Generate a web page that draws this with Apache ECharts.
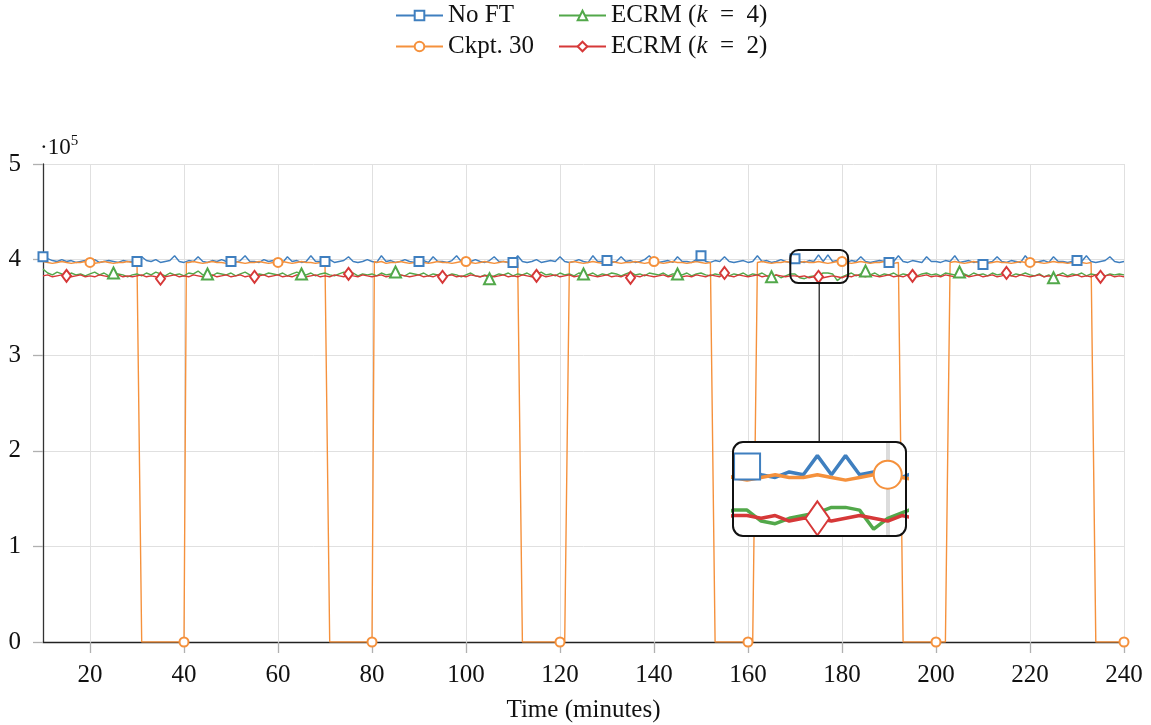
<!DOCTYPE html>
<html>
<head>
<meta charset="utf-8">
<script src="https://cdn.jsdelivr.net/npm/echarts/dist/echarts.min.js"></script>
<style>
  html, body { margin: 0; padding: 0; background: #fff; }
  #chart { width: 1151px; height: 725px; }
</style>
</head>
<body>
<div id="chart"></div>
<script>
// one sample per minute, minute 10 .. 240, values in thousands
var firstMinute = 10
var xTicks = [20, 40, 60, 80, 100, 120, 140, 160, 180, 200, 220, 240]

var noFT = [
  403, 401, 399, 398, 400, 398, 399, 397, 398, 399,
  398, 400, 397, 398, 399, 398, 397, 399, 398, 398,
  398, 403, 399, 398, 400, 397, 398, 399, 404, 398,
  397, 399, 398, 403, 398, 397, 399, 398, 400, 398,
  398, 397, 399, 404, 398, 398, 397, 400, 398, 399,
  398, 397, 403, 398, 399, 397, 398, 404, 398, 398,
  398, 400, 397, 398, 399, 403, 398, 397, 398, 400,
  398, 397, 404, 398, 399, 397, 398, 400, 398, 397,
  398, 399, 397, 403, 398, 398, 397, 399, 404, 398,
  397, 398, 400, 398, 397, 399, 403, 398, 398, 397,
  397, 404, 398, 397, 398, 400, 397, 398, 399, 398,
  403, 398, 397, 398, 400, 398, 397, 404, 398, 398,
  399, 397, 398, 403, 398, 399, 397, 398, 400, 404,
  398, 397, 398, 399, 397, 403, 398, 398, 397, 400,
  404, 398, 397, 399, 398, 403, 398, 397, 398, 399,
  397, 398, 404, 398, 399, 397, 398, 400, 398, 397,
  401, 398, 397, 399, 398, 405, 398, 405, 398, 399,
  398, 397, 399, 398, 403, 398, 397, 398, 399, 398,
  397, 398, 404, 398, 397, 399, 398, 397, 403, 398,
  398, 397, 399, 398, 404, 397, 398, 399, 397, 398,
  395, 397, 398, 403, 398, 397, 399, 398, 397, 404,
  398, 397, 398, 399, 397, 403, 398, 398, 397, 398,
  399, 398, 404, 398, 397, 398, 399, 403, 398, 397,
  398
]

var ckpt30 = [
  398, 397, 396, 397, 398, 397, 396, 397, 397, 398,
  397, 396, 397, 398, 397, 396, 397, 397, 398, 397,
  397, 0, 0, 0, 0, 0, 0, 0, 0, 0,
  0, 397, 398, 397, 396, 397, 398, 397, 397, 396,
  397, 398, 397, 396, 397, 397, 398, 397, 396, 397,
  397, 398, 397, 396, 397, 398, 397, 397, 396, 397,
  397, 0, 0, 0, 0, 0, 0, 0, 0, 0,
  0, 397, 398, 396, 397, 397, 398, 397, 396, 397,
  398, 397, 396, 397, 398, 397, 397, 396, 397, 398,
  398, 397, 396, 397, 398, 397, 396, 397, 398, 397,
  396, 397, 0, 0, 0, 0, 0, 0, 0, 0,
  0, 0, 397, 398, 397, 396, 397, 398, 397, 396,
  397, 398, 397, 396, 397, 397, 398, 397, 396, 397,
  398, 397, 396, 397, 398, 397, 397, 396, 397, 398,
  397, 396, 397, 0, 0, 0, 0, 0, 0, 0,
  0, 0, 397, 398, 397, 396, 397, 397, 398, 397,
  396, 397, 398, 397, 397, 398, 397, 396, 397, 398,
  398, 397, 396, 397, 398, 397, 396, 397, 397, 398,
  397, 396, 397, 0, 0, 0, 0, 0, 0, 0,
  0, 0, 0, 397, 398, 397, 396, 397, 398, 397,
  397, 396, 397, 398, 397, 397, 396, 397, 398, 397,
  397, 398, 397, 396, 397, 398, 397, 397, 396, 397,
  398, 397, 396, 397, 0, 0, 0, 0, 0, 0,
  0
]
// recovery points of Ckpt. 30 that fall between whole minutes [minute, value]
var ckpt30Recovery = [[40.5, 397], [80.5, 398]]

var ecrm4 = [
  390, 386, 384, 387, 385, 383, 386, 384, 385, 383,
  385, 387, 384, 386, 383, 386, 385, 384, 382, 384,
  385, 383, 386, 384, 387, 385, 383, 386, 384, 385,
  383, 386, 385, 388, 384, 385, 383, 386, 385, 384,
  386, 383, 385, 387, 384, 382, 385, 384, 386, 385,
  384, 386, 383, 385, 387, 385, 384, 386, 383, 385,
  386, 384, 383, 385, 387, 384, 386, 383, 385, 384,
  385, 383, 386, 384, 385, 387, 384, 383, 386, 385,
  384, 386, 383, 385, 384, 386, 383, 385, 384, 382,
  384, 386, 383, 382, 384, 380, 383, 385, 384, 386,
  383, 385, 384, 386, 383, 385, 387, 384, 385, 383,
  386, 384, 385, 383, 386, 385, 384, 386, 383, 385,
  384, 386, 385, 383, 385, 387, 384, 385, 383, 386,
  385, 384, 386, 383, 385, 385, 384, 386, 383, 385,
  386, 384, 383, 385, 384, 386, 383, 385, 384, 386,
  383, 385, 384, 386, 383, 382, 384, 381, 383, 385,
  385, 381, 380, 382, 383, 384, 386, 386, 385, 378,
  382, 384, 386, 383, 385, 388, 384, 386, 383, 385,
  384, 386, 383, 385, 384, 386, 383, 385, 386, 384,
  385, 383, 386, 385, 384, 387, 385, 383, 386, 384,
  385, 383, 386, 384, 385, 386, 383, 385, 384, 386,
  384, 383, 385, 382, 384, 381, 384, 386, 383, 385,
  384, 386, 383, 385, 384, 386, 383, 385, 384, 385,
  384
]

var ecrm2 = [
  383, 384, 382, 383, 384, 383, 382, 383, 384, 382,
  383, 382, 384, 383, 382, 383, 384, 382, 383, 382,
  383, 384, 382, 383, 382, 380, 382, 383, 384, 382,
  383, 382, 384, 383, 382, 383, 384, 382, 383, 384,
  382, 383, 384, 382, 383, 382, 383, 384, 382, 383,
  384, 382, 383, 382, 384, 383, 382, 383, 384, 382,
  383, 382, 384, 383, 382, 385, 383, 382, 384, 383,
  382, 383, 384, 382, 383, 382, 384, 383, 382, 383,
  384, 382, 383, 382, 384, 382, 383, 384, 382, 383,
  382, 384, 383, 382, 383, 384, 382, 383, 384, 382,
  383, 382, 384, 383, 382, 383, 384, 382, 383, 384,
  382, 383, 384, 382, 383, 382, 384, 383, 382, 383,
  384, 382, 383, 382, 384, 381, 383, 382, 384, 383,
  382, 383, 384, 382, 383, 384, 382, 383, 382, 384,
  383, 382, 384, 383, 382, 386, 383, 382, 384, 383,
  382, 383, 384, 382, 383, 382, 384, 383, 382, 383,
  383, 382, 383, 381, 382, 382, 381, 382, 383, 382,
  381, 383, 382, 384, 383, 382, 384, 383, 382, 383,
  384, 382, 383, 382, 384, 383, 382, 383, 384, 382,
  383, 382, 384, 383, 382, 383, 384, 382, 383, 384,
  382, 383, 384, 382, 383, 386, 383, 382, 384, 383,
  382, 383, 384, 382, 383, 382, 384, 383, 382, 383,
  384, 382, 383, 382, 384, 382, 383, 384, 382, 383,
  382
]

// region magnified in the inset (minutes, thousands)
var zoomX = [169, 181.3]
var zoomY = [375.5, 410]

var serif = 'Liberation Serif'
var fs = 25

// name, values, extra points, colour, symbol, first marked minute, size, inset size
var lines = [
  ['No FT', noFT, [], '#3f7fbf', 'emptyRect', 10, 9, 26],
  ['Ckpt. 30', ckpt30, ckpt30Recovery, '#f5913c', 'emptyCircle', 20, 9, 28],
  ['ECRM (k = 4)', ecrm4, [], '#52a84a', 'emptyTriangle', 25, 11, 30],
  ['ECRM (k = 2)', ecrm2, [], '#d63838', 'emptyDiamond', 15, [9, 12], [24, 34]]
]

function buildData (values, extra, markFrom) {
  var pts = values.map(function (v, i) { return [firstMinute + i, v] })
  pts = pts.concat(extra).sort(function (a, b) { return a[0] - b[0] })
  return pts.map(function (p) {
    var item = { value: p }
    var marked = Number.isInteger(p[0]) && (p[0] - markFrom) % 20 === 0
    if (!marked) item.symbol = 'none'
    return item
  })
}

var chart = echarts.init(document.getElementById('chart'))

var series = []
// vertical grid lines
series.push({
  type: 'line',
  name: 'grid',
  data: [],
  z: 1,
  silent: true,
  markLine: {
    z: 1,
    silent: true,
    symbol: 'none',
    animation: false,
    label: { show: false },
    lineStyle: { color: '#e0e0e0', width: 1, type: 'solid' },
    data: xTicks.map(function (v) { return { xAxis: v } })
  }
})
lines.forEach(function (l) {
  series.push({
    type: 'line',
    name: l[0],
    data: buildData(l[1], l[2], l[5]),
    symbol: l[4],
    symbolSize: l[6],
    showAllSymbol: true,
    color: l[3],
    lineStyle: { width: 1.4 },
    itemStyle: { borderWidth: 1.3 },
    emphasis: { disabled: true },
    z: 2
  })
})
// inset grid line at 180
series.push({
  type: 'line',
  name: 'insetgrid',
  xAxisIndex: 1,
  yAxisIndex: 1,
  data: [],
  z: 11,
  silent: true,
  markLine: {
    z: 11,
    silent: true,
    symbol: 'none',
    animation: false,
    label: { show: false },
    lineStyle: { color: '#dcdcdc', width: 4, type: 'solid' },
    data: [{ xAxis: 180 }]
  }
})
lines.forEach(function (l) {
  series.push({
    type: 'line',
    name: l[0],
    xAxisIndex: 1,
    yAxisIndex: 1,
    data: buildData(l[1], l[2], l[5]),
    symbol: l[4],
    symbolSize: l[7],
    showAllSymbol: true,
    color: l[3],
    lineStyle: { width: 3.5 },
    itemStyle: { borderWidth: 3.5 },
    emphasis: { disabled: true },
    clip: true,
    z: 12
  })
})

var legendText = {
  fontFamily: serif,
  fontSize: fs,
  color: '#111',
  lineHeight: 25,
  rich: { i: { fontFamily: serif, fontSize: fs, fontStyle: 'italic', color: '#111' } }
}

var option = {
  animation: false,
  backgroundColor: '#fff',
  legend: [{
    left: 395,
    top: 3,
    padding: 0,
    orient: 'vertical',
    itemGap: 6,
    itemWidth: 47,
    itemHeight: 12,
    selectedMode: false,
    data: ['No FT', 'Ckpt. 30'],
    textStyle: legendText
  }, {
    left: 558,
    top: 3,
    padding: 0,
    orient: 'vertical',
    itemGap: 6,
    itemWidth: 47,
    itemHeight: 12,
    selectedMode: false,
    data: ['ECRM (k = 4)', 'ECRM (k = 2)'],
    formatter: function (name) {
      return name.replace('k', '{i|k}').replace(' = ', '\u2002=\u2002')
    },
    textStyle: legendText
  }],
  grid: [
    { left: 43, right: 27, top: 164, bottom: 83, containLabel: false, outerBoundsMode: 'none' },
    { left: 733, top: 442, width: 173, height: 94, containLabel: false, outerBoundsMode: 'none' }
  ],
  xAxis: [{
    type: 'value',
    min: 10,
    max: 240,
    name: 'Time (minutes)',
    nameLocation: 'middle',
    nameGap: 56,
    nameTextStyle: { fontFamily: serif, fontSize: fs, color: '#111' },
    axisLine: { lineStyle: { color: '#222', width: 1.3 } },
    axisTick: { customValues: xTicks, length: 11, lineStyle: { color: '#b0b0b0', width: 1.3 } },
    axisLabel: { customValues: xTicks, margin: 21, fontFamily: serif, fontSize: fs, color: '#111' },
    splitLine: { show: false }
  }, {
    type: 'value',
    gridIndex: 1,
    min: zoomX[0],
    max: zoomX[1],
    show: false
  }],
  yAxis: [{
    type: 'value',
    min: 0,
    max: 500,
    interval: 100,
    name: '{a|·10}{b|5}',
    nameLocation: 'end',
    nameGap: 3,
    nameTextStyle: {
      align: 'left',
      verticalAlign: 'bottom',
      padding: [0, 0, 0, -3],
      rich: {
        a: { fontFamily: serif, fontSize: 23, color: '#111', lineHeight: 27 },
        b: { fontFamily: serif, fontSize: 15, color: '#111', lineHeight: 15, verticalAlign: 'top' }
      }
    },
    axisLine: { show: true, lineStyle: { color: '#333', width: 1.3 } },
    axisTick: { show: true, length: 10, lineStyle: { color: '#b0b0b0', width: 1.3 } },
    axisLabel: {
      margin: 22,
      fontFamily: serif,
      fontSize: fs,
      color: '#111',
      formatter: function (v) { return String(v / 100) }
    },
    splitLine: { lineStyle: { color: '#e0e0e0', width: 1 } }
  }, {
    type: 'value',
    gridIndex: 1,
    min: zoomY[0],
    max: zoomY[1],
    show: false
  }],
  series: series
}

chart.setOption(option)

// zoom box, inset frame and connector
var p0 = chart.convertToPixel({ xAxisIndex: 0, yAxisIndex: 0 }, [zoomX[0], zoomY[1]])
var p1 = chart.convertToPixel({ xAxisIndex: 0, yAxisIndex: 0 }, [zoomX[1], zoomY[0]])
var q0 = chart.convertToPixel({ xAxisIndex: 1, yAxisIndex: 1 }, [zoomX[0], zoomY[1]])
var q1 = chart.convertToPixel({ xAxisIndex: 1, yAxisIndex: 1 }, [zoomX[1], zoomY[0]])
var cx = (p0[0] + p1[0]) / 2

chart.setOption({
  graphic: [{
    type: 'rect',
    z: 10,
    silent: true,
    shape: { x: q0[0], y: q0[1], width: q1[0] - q0[0], height: q1[1] - q0[1], r: 10 },
    style: { fill: '#fff' }
  }, {
    type: 'rect',
    z: 13,
    silent: true,
    shape: { x: q0[0], y: q0[1], width: q1[0] - q0[0], height: q1[1] - q0[1], r: 10 },
    style: { fill: null, stroke: '#111', lineWidth: 2 }
  }, {
    type: 'rect',
    z: 13,
    silent: true,
    shape: { x: p0[0], y: p0[1], width: p1[0] - p0[0], height: p1[1] - p0[1], r: 8 },
    style: { fill: null, stroke: '#111', lineWidth: 2 }
  }, {
    type: 'line',
    z: 13,
    silent: true,
    shape: { x1: cx, y1: p1[1], x2: cx, y2: q0[1] },
    style: { stroke: '#111', lineWidth: 1.2 }
  }]
})
</script>
</body>
</html>
